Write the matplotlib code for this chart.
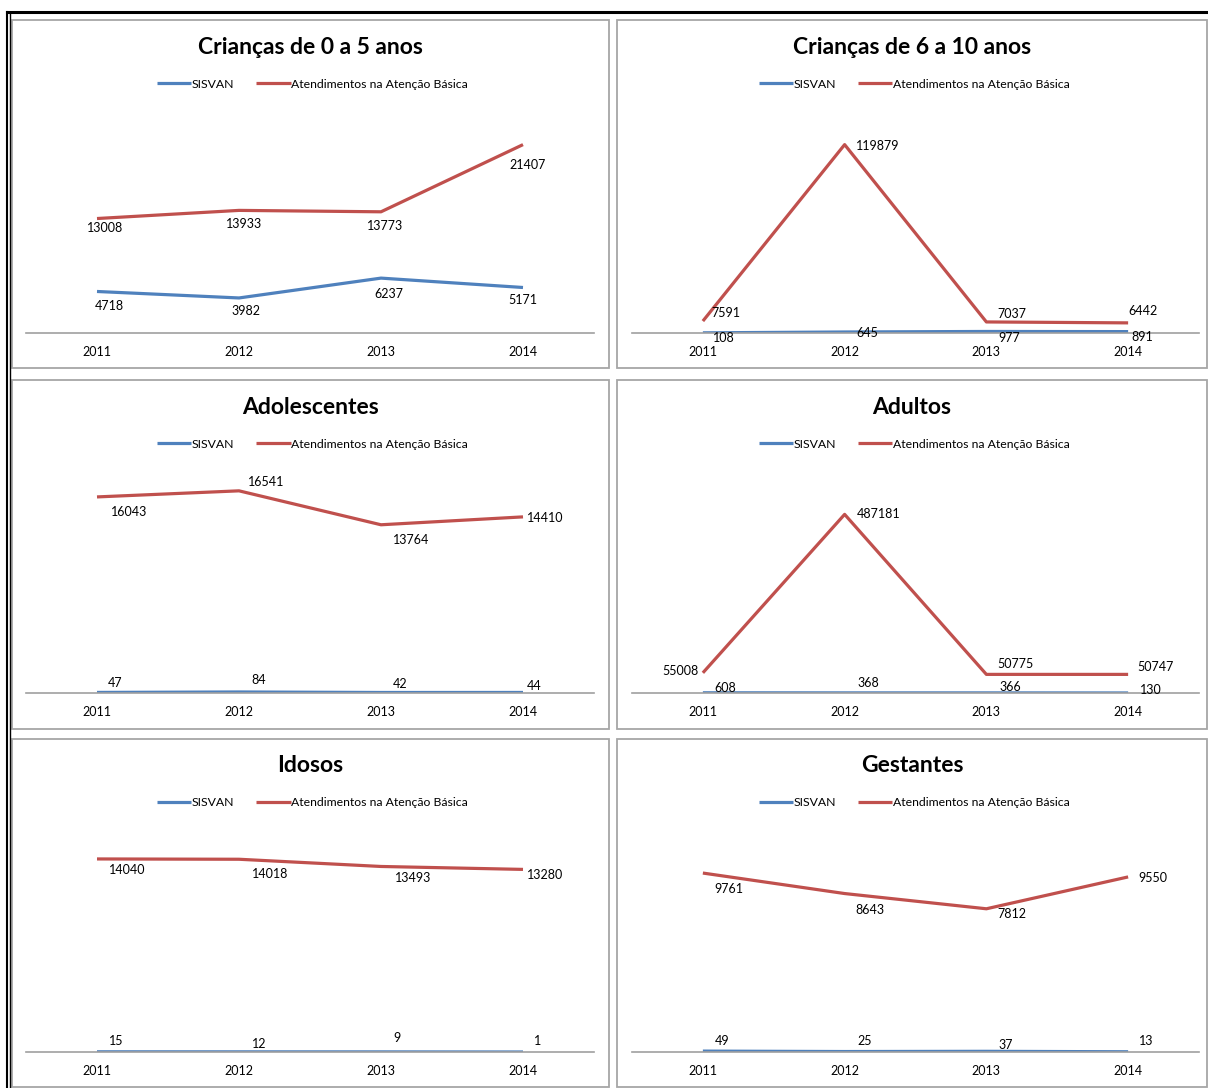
import matplotlib
matplotlib.use("Agg")
import matplotlib.pyplot as plt
from matplotlib.lines import Line2D
from matplotlib.patches import Rectangle

plt.rcParams['font.family'] = ['Lato', 'DejaVu Sans']

years = ["2011", "2012", "2013", "2014"]
titles = ["Crianças de 0 a 5 anos", "Crianças de 6 a 10 anos", "Adolescentes",
          "Adultos", "Idosos", "Gestantes"]
sisvan = [
    [4718, 3982, 6237, 5171],
    [108, 645, 977, 891],
    [47, 84, 42, 44],
    [608, 368, 366, 130],
    [15, 12, 9, 1],
    [49, 25, 37, 13],
]
atencao = [
    [13008, 13933, 13773, 21407],
    [7591, 119879, 7037, 6442],
    [16043, 16541, 13764, 14410],
    [55008, 487181, 50775, 50747],
    [14040, 14018, 13493, 13280],
    [9761, 8643, 7812, 9550],
]
ymax = [25000, 140000, 18000, 600000, 16000, 12000]
series_names = ["SISVAN", "Atendimentos na Atenção Básica"]

# label offsets in pixels (dx, dy down) from the data point
off_red = [
    [(8, 9), (5, 14), (4, 14), (5, 20)],
    [(23, -8), (33, 1), (25, -8), (15, -12)],
    [(32, 15), (27, -9), (30, 15), (22, 1)],
    [(-22, -2), (34, 0), (29, -10), (27, -7)],
    [(30, 11), (31, 15), (32, 12), (22, 6)],
    [(26, 16), (25, 16), (26, 5), (25, 1)],
]
off_blue = [
    [(12, 15), (7, 13), (8, 16), (0, 13)],
    [(21, 5), (23, 1), (23, 7), (14, 5)],
    [(18, -9), (20, -12), (19, -8), (11, -6)],
    [(22, -5), (24, -10), (24, -6), (23, -3)],
    [(19, -11), (20, -8), (16, -14), (15, -11)],
    [(19, -10), (20, -11), (19, -6), (18, -11)],
]

W, H = 1208, 1088
BLUE = "#4F81BD"
RED = "#C0504D"

fig = plt.figure(figsize=(W / 100, H / 100), dpi=100)

def fx(x):
    return x / W

def fy(y):
    return 1 - y / H

# outer frame
fig.add_artist(Line2D([fx(7), fx(1208)], [fy(12), fy(12)], color="black", lw=2.2))
fig.add_artist(Line2D([fx(7), fx(7)], [fy(12), fy(1088)], color="black", lw=1.5))
fig.add_artist(Line2D([fx(9.5), fx(9.5)], [fy(12), fy(1088)], color="black", lw=1.0))

cols = [(12, 609), (617, 1207)]
axcols = [(26, 594), (632, 1199)]
rows = [(20, 368), (380, 729), (739, 1087)]

for i in range(6):
    r, c = divmod(i, 2)
    px0, px1 = cols[c]
    py0, py1 = rows[r]
    fig.add_artist(Rectangle((fx(px0), fy(py1)), fx(px1) - fx(px0), fy(py0) - fy(py1),
                             fill=False, edgecolor="#a6a6a6", lw=1.3))
    ax0, ax1 = axcols[c]
    atop = py0 + 93
    abot = py0 + 313
    ax = fig.add_axes([fx(ax0), fy(abot), fx(ax1) - fx(ax0), fy(atop) - fy(abot)])
    ax.set_facecolor("none")
    x = list(range(4))
    l1, = ax.plot(x, sisvan[i], color=BLUE, lw=2.3, solid_capstyle="butt")
    l2, = ax.plot(x, atencao[i], color=RED, lw=2.3, solid_capstyle="butt")
    ax.set_xlim(-0.5, 3.5)
    ax.set_ylim(0, ymax[i])
    for s in ["top", "left", "right"]:
        ax.spines[s].set_visible(False)
    ax.spines["bottom"].set_color("#a0a0a0")
    ax.spines["bottom"].set_linewidth(1.2)
    ax.set_yticks([])
    ax.set_xticks(x)
    ax.set_xticklabels(years, fontsize=9)
    ax.tick_params(axis="x", length=0, pad=9.5)
    for j in range(4):
        dx, dy = off_red[i][j]
        ax.annotate(str(atencao[i][j]), (j, atencao[i][j]), xytext=(dx, -dy),
                    textcoords="offset pixels", ha="center", va="center", fontsize=9)
        dx, dy = off_blue[i][j]
        ax.annotate(str(sisvan[i][j]), (j, sisvan[i][j]), xytext=(dx, -dy),
                    textcoords="offset pixels", ha="center", va="center", fontsize=9)
    cx = (px0 + px1) / 2
    fig.text(fx(cx), fy(py0 + 27), titles[i], ha="center", va="center",
             fontsize=16.5, fontweight="bold")
    fig.legend([l1, l2], series_names, loc="center",
               bbox_to_anchor=(fx(cx + 2), fy(py0 + 64)), ncol=2, frameon=False,
               fontsize=8.8, handlelength=2.8, handletextpad=0.05, columnspacing=1.8)

fig.savefig("out.png", dpi=100, facecolor="white")
